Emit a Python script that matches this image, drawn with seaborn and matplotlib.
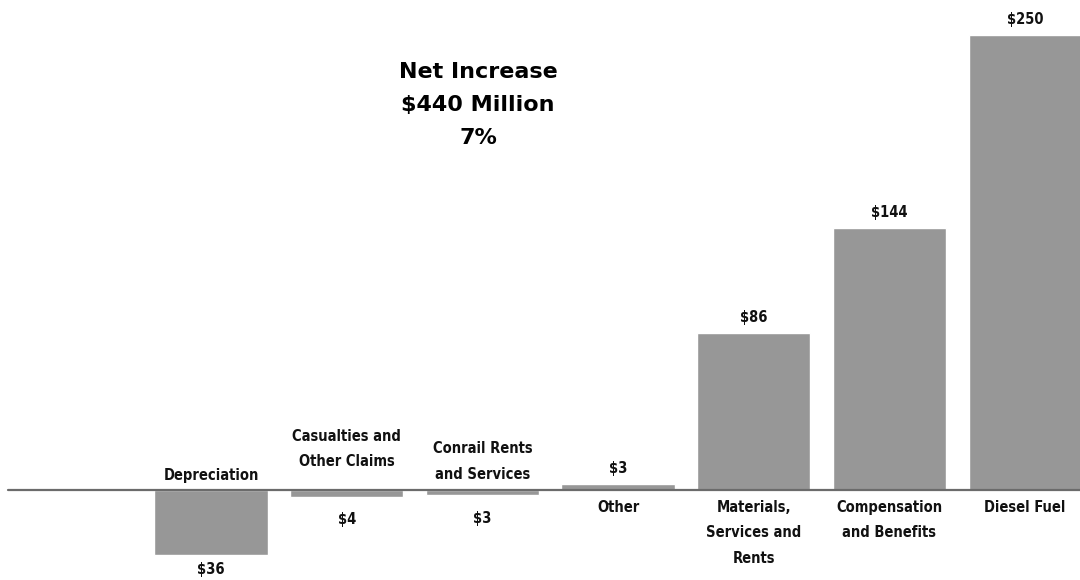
import matplotlib
matplotlib.use("Agg")
import matplotlib.pyplot as plt
from matplotlib import font_manager
import seaborn as sns
import pandas as pd

# Change in operating expenses by category ($ millions)
categories = [
    "Depreciation",
    "Casualties and\nOther Claims",
    "Conrail Rents\nand Services",
    "Other",
    "Materials,\nServices and\nRents",
    "Compensation\nand Benefits",
    "Diesel Fuel",
]
changes = [-36, -4, -3, 3, 86, 144, 250]
value_labels = ["$36", "$4", "$3", "$3", "$86", "$144", "$250"]
headline = "Net Increase\n$440 Million\n7%"

# Gap (points) between the axis line and each category label
label_pads = [5, 15, 6, 7, 7, 7, 7]
# Gap (points) between each bar end and its value label
value_pads = [5, 11, 11, 6, 6, 6, 6]

sns.set_theme(style="white")

# Prefer a narrow face for the labels when one is available
label_family = "Liberation Sans"
label_stretch = "normal"
label_size = 10
for f in font_manager.fontManager.ttflist:
    if f.name in ("Liberation Sans Narrow", "Roboto Condensed", "Open Sans Condensed"):
        label_family, label_size = f.name, 11
        break
    if f.name in ("DejaVu Sans", "Noto Sans", "Roboto") and str(f.stretch) in ("condensed", "semi-condensed", "75", "87"):
        label_family, label_stretch, label_size = f.name, f.stretch, 10.5
        break
plt.rcParams["font.family"] = [label_family, "DejaVu Sans"]

df = pd.DataFrame({"category": categories, "change": changes})

fig = plt.figure(figsize=(10.8, 5.8), dpi=100)
ax = fig.add_axes([0, 0, 1, 1])

sns.barplot(data=df, x="category", y="change", order=categories,
            color="#979797", saturation=1, width=0.835, ax=ax)

ax.set_xlim(-1.555, 6.404)
ax.set_ylim(-49.5, 269.2)
ax.axhline(0, xmin=0.0075, xmax=1, color="#6b6b6b", lw=1.6, zorder=3)

txt = dict(fontsize=label_size, color="#111111", fontstretch=label_stretch,
           fontweight="bold")
for i, (cat, val, vlab) in enumerate(zip(categories, changes, value_labels)):
    pad, vpad = label_pads[i], value_pads[i]
    if val >= 0:
        ax.annotate(vlab, (i, val), xytext=(0, vpad), textcoords="offset points",
                    ha="center", va="bottom", **txt)
        ax.annotate(cat, (i, 0), xytext=(0, -pad), textcoords="offset points",
                    ha="center", va="top", linespacing=1.9, **txt)
    else:
        ax.annotate(vlab, (i, val), xytext=(0, -vpad), textcoords="offset points",
                    ha="center", va="top", **txt)
        ax.annotate(cat, (i, 0), xytext=(0, pad), textcoords="offset points",
                    ha="center", va="bottom", linespacing=1.85, **txt)

fig.text(478 / 1080, 1 - 105 / 580, headline, ha="center", va="center",
         multialignment="center", fontsize=16, fontweight="bold",
         family=["DejaVu Sans"], linespacing=1.83, color="#000000")

ax.set_axis_off()
fig.savefig("out.png", dpi=100, facecolor="white")
